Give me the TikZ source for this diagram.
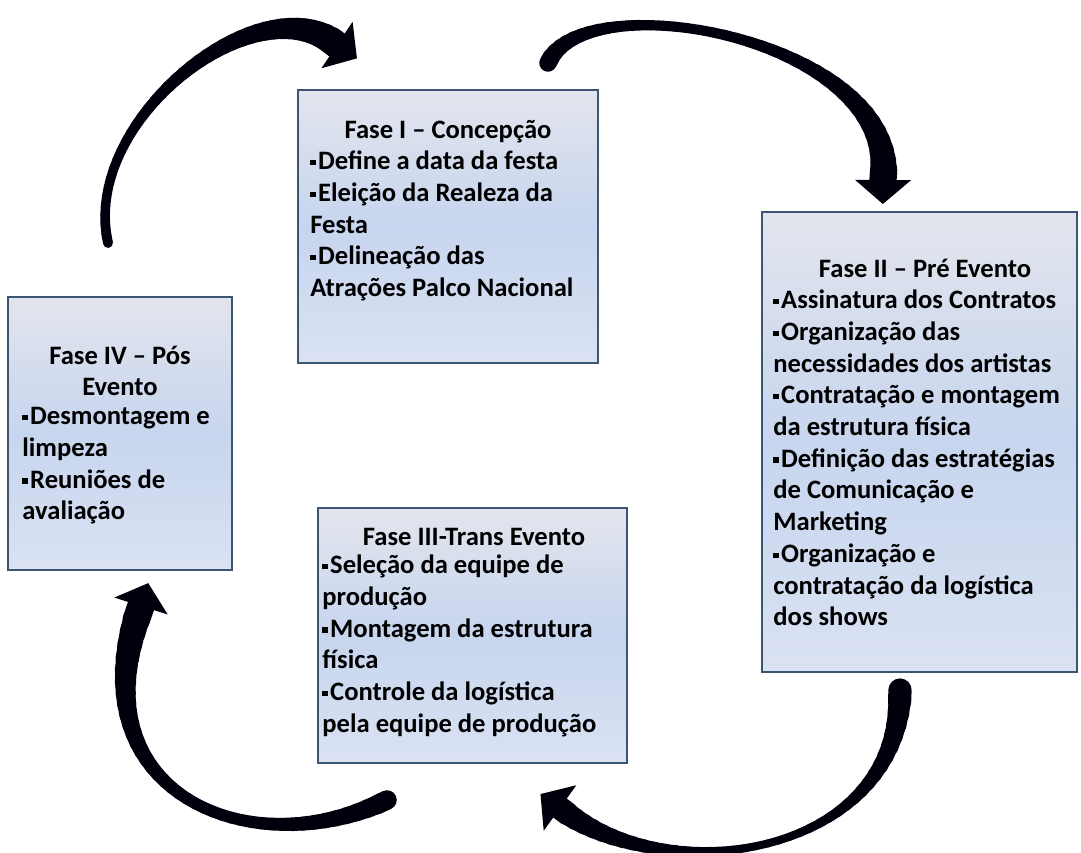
\documentclass[tikz,border=0pt]{standalone}
\usepackage{fontspec}
\setmainfont{Carlito}
\usetikzlibrary{calc,fit}

% small square bullet, as in the slide
\newcommand{\sqbul}{\raisebox{2.2pt}{\rule{2.7pt}{2.7pt}}\hspace{1.2pt}}

\begin{document}
\begin{tikzpicture}[x=0.5pt, y=-0.5pt,
    font=\fontsize{13.3pt}{15.85pt}\selectfont\bfseries,
    phase/.style={draw=boxLine, line width=1.3pt, inner sep=0pt,
        top color=boxTop, bottom color=boxLow, middle color=boxMid},
    heading/.style={align=center, inner sep=0pt},
    items/.style={align=left, inner sep=0pt, anchor=west}]

% Define Colors
\definecolor{boxLine}{HTML}{3B5573}
\definecolor{boxTop}{RGB}{226,229,237}
\definecolor{boxMid}{RGB}{199,213,238}
\definecolor{boxLow}{RGB}{218,226,243}
\colorlet{arrowInk}{black!95!blue}

\useasboundingbox (0,0) rectangle (1081,852);

% --- THE FOUR PHASES ---
    \node[phase, fit={(298,90) (598,363)}] (f1) {};
    \node[phase, fit={(762,212) (1077,672)}] (f2) {};
    \node[phase, fit={(318,508) (627,763)}] (f3) {};
    \node[phase, fit={(8,297) (232,570)}] (f4) {};

% Fase I
    \node[heading] (f1t) at (448,132) {Fase I – Concepção};
    \node[items] (f1l) at (310,226) {\sqbul Define a data da festa\\\sqbul Eleição da Realeza da\\Festa\\\sqbul Delineação das\\Atrações Palco Nacional};

% Fase II
    \node[heading] (f2t) at (925,268) {Fase II – Pré Evento};
    \node[items] (f2l) at (773,458) {\sqbul Assinatura dos Contratos\\\sqbul Organização das\\necessidades dos artistas\\\sqbul Contratação e montagem\\da estrutura física\\\sqbul Definição das estratégias\\de Comunicação e\\Marketing\\\sqbul Organização e\\contratação da logística\\dos shows};

% Fase III
    \node[heading] (f3t) at (474,537) {Fase III-Trans Evento};
    \node[items] (f3l) at (322,646) {\sqbul Seleção da equipe de\\produção\\\sqbul Montagem da estrutura\\física\\\sqbul Controle da logística\\pela equipe de produção};

% Fase IV
    \node[heading] (f4t) at (120,371) {Fase IV – Pós\\Evento};
    \node[items] (f4l) at (22,466) {\sqbul Desmontagem e\\limpeza\\\sqbul Reuniões de\\avaliação};

% --- THE CYCLE ARROWS (tail, two pulls, head base) ---
    \coordinate (tailA) at (108,243); \coordinate (pullA) at (80,120);
    \coordinate (pushA) at (260,-20); \coordinate (headA) at (337,45);
    \coordinate (tailB) at (548,63);  \coordinate (pullB) at (585,-20);
    \coordinate (pushB) at (900,40);  \coordinate (headB) at (883,180);
    \coordinate (tailC) at (900,690); \coordinate (pullC) at (900,860);
    \coordinate (pushC) at (660,890); \coordinate (headC) at (560,808);
    \coordinate (tailD) at (387,800); \coordinate (pullD) at (252,867);
    \coordinate (pushD) at (71,794);  \coordinate (headD) at (141,606);

    \foreach \a/\wa/\wm/\wb in {A/10/6/28, B/18/-2/28, C/24/-8/24, D/20/0/28} {
    \foreach \i [evaluate=\i as \s using \i/40] in {0,...,40}
    \path (tail\a) .. controls (pull\a) and (push\a) .. (head\a) coordinate[pos=\s] (p\i);

% tapered shaft
    \foreach \i [count=\j] in {0,...,39} {
    \pgfmathsetmacro\tpos{(\i+0.5)/40}
    \pgfmathsetmacro\lw{0.5*(\wa*(1-\tpos)^2 + 2*(\wm)*\tpos*(1-\tpos) + \wb*\tpos^2)}
    \draw[arrowInk, line width=\lw pt, line cap=round] (p\i) -- (p\j);
    }

% wide short head
    \coordinate (barbL\a) at ($(p40)!14pt!90:(p38)$);
    \coordinate (barbR\a) at ($(p40)!14pt!-90:(p38)$);
    \coordinate (tip\a) at ($(p40)!12pt!180:(p38)$);
    \fill[arrowInk] (barbL\a) -- (tip\a) -- (barbR\a) -- cycle;
    }

\end{tikzpicture}
\end{document}
